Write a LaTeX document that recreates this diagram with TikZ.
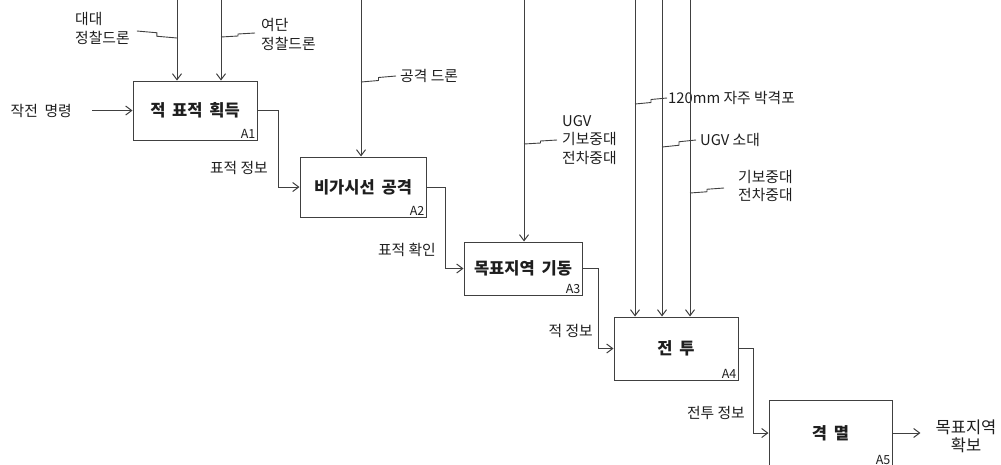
\documentclass[tikz,border=0pt]{standalone}
\usepackage{fontspec}
\setmainfont{Noto Sans CJK KR}[BoldFeatures={WordSpace=1.8}]
\usetikzlibrary{arrows.meta, calc}
\definecolor{idefline}{HTML}{404040}
\definecolor{ideftext}{HTML}{1E1E1E}

\begin{document}
\begin{tikzpicture}[
  x=1pt, y=-1pt,
  >={Straight Barb[length=6pt,width=9pt]},
  func/.style={draw=idefline, line width=1pt, inner sep=0pt, align=center, font=\fontsize{16.5}{19}\selectfont\bfseries, text=ideftext},
  tag/.style={anchor=south east, inner sep=2pt, font=\fontsize{12.5}{13}\selectfont, text=ideftext},
  lbl/.style={inner sep=0pt, align=left, font=\fontsize{14.8}{18.5}\selectfont, text=ideftext},
  arrow/.style={->, draw=idefline, line width=1pt},
  squig/.style={draw=idefline, line width=0.9pt, to path={let \p1=(\tikztostart), \p2=(\tikztotarget) in
    -- ({0.5*\x1+0.5*\x2}, {0.75*\y1+0.25*\y2}) -- ({0.5*\x1+0.5*\x2}, {0.25*\y1+0.75*\y2}) -- (\tikztotarget)}}
]
  \useasboundingbox (0,0) rectangle (1001,464);

  %=======================================

  % Activites A1 - A5 ====================
  \node[func, minimum width=124pt, minimum height=59pt, label={[tag]south east:A1}] (targetAcq) at (195,110.5) {적 표적 획득};
  \node[func, minimum width=126pt, minimum height=60pt, label={[tag]south east:A2}] (nlosAtk) at (363,187) {비가시선 공격};
  \node[func, minimum width=118pt, minimum height=53pt, label={[tag]south east:A3}] (moveObj) at (523,268.5) {목표지역 기동};
  \node[func, minimum width=124pt, minimum height=63pt, label={[tag]south east:A4}] (combat) at (676,348.5) {전 투};
  \node[func, minimum width=123pt, minimum height=66pt, label={[tag]south east:A5}] (destroy) at (830.5,433) {격 멸};

  % Entrees / sorties
  \node[lbl, anchor=east] (order) at (72,110.5) {작전\ \ 명령};
  \node[lbl, anchor=east] (tgtInfo) at (268,168) {표적 정보};
  \node[lbl, anchor=east] (tgtConf) at (436,250) {표적 확인};
  \node[lbl, anchor=east] (enemyInfo) at (593,331) {적 정보};
  \node[lbl, anchor=east] (combatInfo) at (745,413) {전투 정보};
  \node[lbl, align=center, font=\fontsize{16.5}{18}\selectfont] (objSecured) at (966,436) {목표지역\\확보};

  % Mecanismes
  \node[lbl, anchor=west] (bnDrone) at (75,28.5) {대대\\정찰드론};
  \node[lbl, anchor=west] (bdeDrone) at (261,34.5) {여단\\정찰드론};
  \node[lbl, anchor=west] (atkDrone) at (400,76) {공격 드론};
  \node[lbl, anchor=west] (ugvCo) at (562,140) {UGV\\기보중대\\전차중대};
  \node[lbl, anchor=west] (mortar) at (668,98) {120mm 자주 박격포};
  \node[lbl, anchor=west] (ugvPlt) at (700,140) {UGV 소대};
  \node[lbl, anchor=west] (mechCo) at (738,186) {기보중대\\전차중대};

  % haut des fleches verticales
  \coordinate (ctl1) at (177,0);
  \coordinate (ctl2) at (221,0);
  \coordinate (ctl3) at (361,0);
  \coordinate (ctl4) at (524,0);
  \coordinate (ctl5) at (635,0);
  \coordinate (ctl6) at (662,0);
  \coordinate (ctl7) at (690,0);

  % Fleches du diagramme
  \draw[arrow, shorten <=20pt] (order.east) -- (targetAcq.west);
  \draw[arrow] (targetAcq.east) -- ++(21,0) |- (nlosAtk.west);
  \draw[arrow] (nlosAtk.east) -- ++(19,0) |- (moveObj.west);
  \draw[arrow] (moveObj.east) -- ++(16,0) |- (combat.west);
  \draw[arrow] (combat.east) -- ++(15,0) |- (destroy.west);
  \draw[arrow, shorten >=15pt] (destroy.east) -- (destroy.east -| objSecured.west);

  % Fleches verticales
  \draw[arrow] (ctl1) -- (ctl1 |- targetAcq.north);
  \draw[arrow] (ctl2) -- (ctl2 |- targetAcq.north);
  \draw[arrow] (ctl3) -- (ctl3 |- nlosAtk.north);
  \draw[arrow] (ctl4) -- (ctl4 |- moveObj.north);
  \draw[arrow] (ctl5) -- (ctl5 |- combat.north);
  \draw[arrow] (ctl6) -- (ctl6 |- combat.north);
  \draw[arrow] (ctl7) -- (ctl7 |- combat.north);

  % liens etiquette - fleche
  \draw[squig] ([xshift=7pt,yshift=-2.5pt]bnDrone.east) to ([yshift=-38pt]ctl1);
  \draw[squig] ([yshift=-37pt]ctl2) to ([xshift=-6pt,yshift=1.5pt]bdeDrone.west);
  \draw[squig] ([yshift=-82pt]ctl3) to ([xshift=-4pt]atkDrone.west);
  \draw[squig] ([yshift=-144pt]ctl4) to ([xshift=-5pt]ugvCo.west);
  \draw[squig] ([yshift=-104pt]ctl5) to ([xshift=-1pt]mortar.west);
  \draw[squig] ([yshift=-147pt]ctl6) to ([xshift=-4pt]ugvPlt.west);
  \draw[squig] ([yshift=-193pt]ctl7) to ([xshift=-14pt,yshift=-2pt]mechCo.west);

  %=======================================

\end{tikzpicture}
\end{document}
